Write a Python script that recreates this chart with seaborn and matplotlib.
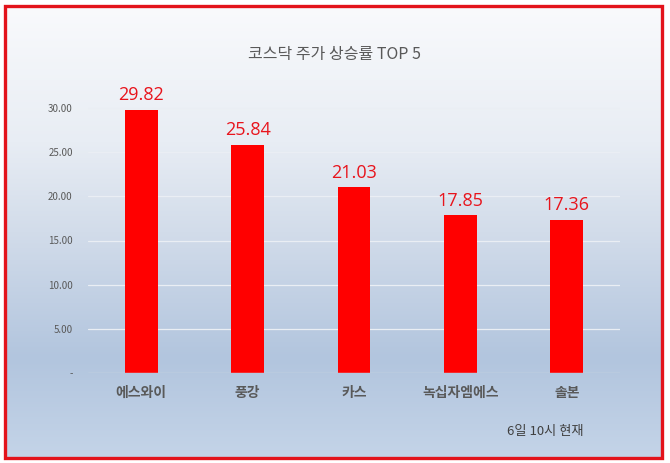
import numpy as np
import pandas as pd
import matplotlib
matplotlib.use("Agg")
import matplotlib.pyplot as plt
from matplotlib.colors import LinearSegmentedColormap
from matplotlib.patches import Rectangle
import seaborn as sns

categories = ["에스와이", "풍강", "카스", "녹십자엠에스", "솔본"]
values = [29.82, 25.84, 21.03, 17.85, 17.36]
yticks = [0, 5, 10, 15, 20, 25, 30]
ytick_labels = ["-", "5.00", "10.00", "15.00", "20.00", "25.00", "30.00"]
title = "코스닥 주가 상승률 TOP 5"
note = "6일 10시 현재"

sns.set_theme(style="white")
plt.rcParams['font.family'] = ['Noto Sans CJK KR', 'DejaVu Sans']

W, H = 670, 463
fig = plt.figure(figsize=(W / 100, H / 100), dpi=100)
fig.patch.set_facecolor("white")

# gradient background inside frame
bx0, bx1, by0, by1 = 5, 662, 6, 458
bg = fig.add_axes([bx0 / W, 1 - by1 / H, (bx1 - bx0) / W, (by1 - by0) / H], zorder=0)
cmap = LinearSegmentedColormap.from_list(
    "bg", [(0, "#f9fafc"), (0.3, "#e8edf4"), (0.5, "#d2dcea"),
           (0.78, "#b2c5de"), (1.0, "#c4d4e8")])
grad = np.linspace(0, 1, 256).reshape(-1, 1)
bg.imshow(grad, aspect="auto", cmap=cmap, extent=[0, 1, 1, 0])
bg.set_axis_off()

# main axes
left, right = 88, 620
y0px, y30px = 373, 108
ymax = 33
ppu = (y0px - y30px) / 30
top_px = y0px - ymax * ppu
ax = fig.add_axes([left / W, 1 - y0px / H, (right - left) / W, (y0px - top_px) / H], zorder=1)
ax.patch.set_alpha(0)

df = pd.DataFrame({"cat": categories, "val": values})
sns.barplot(data=df, x="cat", y="val", color="#ff0000", saturation=1, width=0.31,
            linewidth=0, edgecolor="none", ax=ax, zorder=3)
ax.set_xlim(-0.5, 4.5)
ax.set_ylim(0, ymax)
ax.set_yticks(yticks)
ax.set_yticklabels(ytick_labels, fontsize=7, color="#595959")
ax.tick_params(axis="y", length=0, pad=11)
ax.tick_params(axis="x", length=0, pad=9)
for lbl in ax.get_xticklabels():
    lbl.set_fontsize(10)
    lbl.set_fontweight("bold")
    lbl.set_color("#595959")
for t in yticks[1:]:
    ax.axhline(t, color="#eaeef4", lw=0.9, zorder=1)
ax.axhline(0, color="#d0d8e4", lw=1.0, zorder=4)
for s in ax.spines.values():
    s.set_visible(False)
ax.set_xlabel("")
ax.set_ylabel("")
ax.grid(False)

ax.bar_label(ax.containers[0], labels=[f"{v:.2f}" for v in values],
             padding=4, fontsize=13, color="#e8141c",
             fontfamily=["Open Sans", "DejaVu Sans"])

fig.text(335 / W, 1 - 55 / H, title, ha="center", va="center", fontsize=11.5, color="#595959")
fig.text(545 / W, 1 - 431 / H, note, ha="center", va="center", fontsize=9.5, color="#404040")

fig.patches.append(Rectangle((bx0 / W, 1 - by1 / H), (bx1 - bx0) / W, (by1 - by0) / H,
                             transform=fig.transFigure, fill=False, edgecolor="#e3131b",
                             linewidth=2.4, zorder=10))

fig.savefig("out.png", dpi=100)
